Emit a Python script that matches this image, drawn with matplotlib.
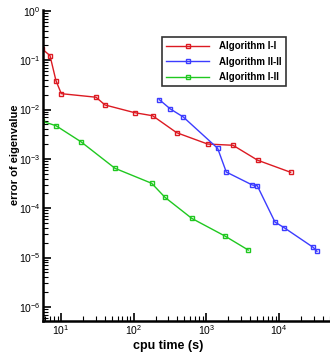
import matplotlib
matplotlib.use("Agg")
import matplotlib.pyplot as plt
from matplotlib.ticker import FixedLocator, LogLocator, LogFormatterSciNotation, NullFormatter

plt.rcParams['font.family'] = ['Liberation Sans', 'DejaVu Sans']
plt.rcParams['mathtext.fontset'] = 'custom'
plt.rcParams['mathtext.rm'] = 'Liberation Sans'
plt.rcParams['mathtext.it'] = 'Liberation Sans'
plt.rcParams['mathtext.default'] = 'regular'

# Data
labels = ["Algorithm I-I", "Algorithm II-II", "Algorithm I-II"]
t_11 = [5.5, 7.06, 8.53, 10.1, 30.3, 40.3, 103, 182, 390, 1042, 2323, 5080, 14450]
e_11 = [0.17, 0.124, 0.0386, 0.021, 0.0178, 0.0124, 0.00865, 0.0075, 0.0034, 0.0020, 0.00189, 0.00094, 0.000535]
t_22 = [225, 319, 481, 1429, 1879, 4280, 5012, 8785, 11790, 29500, 33200]
e_22 = [0.0159, 0.0103, 0.00708, 0.00164, 0.000542, 0.000296, 0.000286, 5.25e-5, 4.02e-5, 1.61e-5, 1.34e-5]
t_12 = [5.5, 8.53, 18.8, 55.3, 177, 270, 629, 1803, 3770]
e_12 = [0.0058, 0.00471, 0.00223, 0.000645, 0.00032, 0.000166, 6.24e-5, 2.73e-5, 1.42e-5]
x_major = [1e1, 1e2, 1e3, 1e4]
y_major = [1e-6, 1e-5, 1e-4, 1e-3, 1e-2, 1e-1, 1e0]
colors = ["#dc1a22", "#3c3cff", "#20c820"]

fig = plt.figure(figsize=(3.30, 3.54), dpi=100)
ax = fig.add_axes([0.131, 0.094, 0.869, 0.878])

for t, e, c, lab in zip([t_11, t_22, t_12], [e_11, e_22, e_12], colors, labels):
    ax.plot(t, e, color=c, lw=1.0, marker='s', markersize=3.5, mfc='none', mew=1.0, label=lab)

ax.set_xscale('log')
ax.set_yscale('log')
ax.set_xlim(5.70, 50200)
ax.set_ylim(10**-6.28, 10**0.02)

ax.xaxis.set_major_locator(FixedLocator(x_major))
ax.yaxis.set_major_locator(FixedLocator(y_major))
for a in (ax.xaxis, ax.yaxis):
    a.set_minor_locator(LogLocator(base=10, subs=range(2, 10), numticks=20))
    a.set_minor_formatter(NullFormatter())
    a.set_major_formatter(LogFormatterSciNotation())

ax.tick_params(which='both', direction='in', top=False, right=False, labelsize=7.5, pad=2)
ax.tick_params(which='major', length=6, width=1.2)
ax.tick_params(which='minor', length=3.5, width=0.8)
for s in ['top', 'right']:
    ax.spines[s].set_visible(False)
for s in ['left', 'bottom']:
    ax.spines[s].set_linewidth(1.8)

ax.set_xlabel("cpu time (s)", fontsize=9, fontweight='bold')
ax.xaxis.set_label_coords(0.437, -0.063)
ax.set_ylabel("error of eigenvalue", fontsize=8, fontweight='bold')
ax.yaxis.set_label_coords(-0.082, 0.535)

leg = ax.legend(loc='upper left', bbox_to_anchor=(0.414, 0.913), fontsize=7,
                frameon=True, fancybox=False, edgecolor='black', handlelength=4.4,
                handletextpad=1.0, borderpad=0.45, labelspacing=0.55, borderaxespad=0)
leg.get_frame().set_linewidth(1.2)
for txt in leg.get_texts():
    txt.set_fontweight('semibold')

fig.savefig("out.png", dpi=100)
